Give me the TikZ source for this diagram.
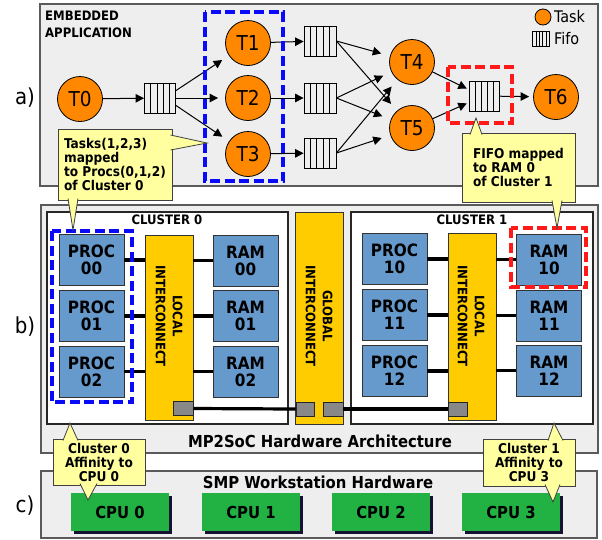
\documentclass[tikz,border=0pt]{standalone}
\usepackage{fontspec}
\IfFontExistsTF{DejaVu Sans Condensed}
  {\setmainfont{DejaVu Sans Condensed}[BoldFont={DejaVu Sans Condensed Bold}]}
  {\setmainfont{DejaVu Sans}[FakeStretch=0.9]}
\usetikzlibrary{arrows.meta,calc,shadows}
\definecolor{taskorange}{RGB}{255,136,0}
\definecolor{panelgray}{RGB}{238,238,238}
\definecolor{edgegray}{RGB}{90,90,90}
\definecolor{unitblue}{RGB}{102,153,204}
\definecolor{icyellow}{RGB}{255,204,0}
\definecolor{portgray}{RGB}{136,136,136}
\definecolor{cpugreen}{RGB}{34,177,67}
\definecolor{shadownavy}{RGB}{20,20,50}
\definecolor{noteyellow}{RGB}{255,255,160}
\definecolor{markblue}{RGB}{10,10,250}
\definecolor{markred}{RGB}{255,25,25}
\tikzset{panel/.style={draw=edgegray, fill=panelgray, line width=1.2pt}}
\tikzset{clusterbox/.style={draw=black!85, fill=white, line width=1.3pt}}
\tikzset{task/.style={circle, draw, fill=taskorange, minimum size=45pt, inner sep=0pt, line width=0.8pt, font=\fontsize{20.5}{20.5}\selectfont}}
\tikzset{fifo/.style={draw, minimum width=#1, minimum height=30pt, inner sep=0pt, line width=0.8pt,
    path picture={\foreach \k in {1,...,4}{\draw[line width=0.8pt] ($(path picture bounding box.south west)!\k/5!(path picture bounding box.south east)$) -- ($(path picture bounding box.north west)!\k/5!(path picture bounding box.north east)$);}}},
  fifo/.default=32pt}
\tikzset{unit/.style={draw=black!80, fill=unitblue, minimum width=65pt, minimum height=51pt, align=center, inner sep=0pt, line width=0.8pt, font=\bfseries\fontsize{17}{17}\selectfont}}
\tikzset{icbar/.style={draw=black!80, fill=icyellow, minimum width=48pt, inner sep=0pt, line width=0.9pt}}
\tikzset{ictext/.style={rotate=-90, align=center, inner sep=0pt, font=\bfseries\fontsize{13}{17}\selectfont}}
\tikzset{port/.style={draw=black!85, fill=portgray, minimum width=19pt, minimum height=14pt, inner sep=0pt, line width=0.8pt}}
\tikzset{cpu/.style={fill=cpugreen, minimum width=98pt, minimum height=38pt, inner sep=0pt, font=\bfseries\fontsize{16.5}{16.5}\selectfont,
    drop shadow={shadow xshift=2.5pt, shadow yshift=-2.5pt, fill=shadownavy, opacity=1}}}
\tikzset{callout/.style={draw=black!75, fill=noteyellow, line width=0.8pt, inner sep=2pt, font=\bfseries\fontsize{13.5}{14}\selectfont}}
\tikzset{title/.style={inner sep=0pt, font=\bfseries\fontsize{13}{17}\selectfont}}
\tikzset{arr/.style={draw, line width=1pt, -{Triangle[length=8.5pt,width=8.5pt]}}}
\tikzset{link/.style={draw, line width=3.2pt}}
\tikzset{bluemark/.style={draw=markblue, line width=3.2pt, dash pattern=on 10pt off 4.5pt}}
\tikzset{redmark/.style={draw=markred, line width=3.2pt, dash pattern=on 10pt off 4.5pt}}
\newcommand\calltail[3]{
    \fill[noteyellow] (#1) -- (#3) -- (#2) -- cycle;
    \draw[black!75, line width=0.8pt] (#1) -- (#3) -- (#2);
  }
\begin{document}
\begin{tikzpicture}[x=1pt, y=-1pt]
    \useasboundingbox (0,0) rectangle (602,539);
    % three layers
    \draw[panel] (40,4) rectangle (598,186);
    \draw[panel] (41,205) rectangle (598,453);
    \draw[panel] (41,471) rectangle (597,538);

    % a) embedded application
    \node[title, anchor=north west, align=left] (apptitle) at (45,11) {EMBEDDED\\APPLICATION};
    \node[task] (T0) at (80,99) {T0};
    \node[task] (T1) at (248,43) {T1};
    \node[task] (T2) at (248,98) {T2};
    \node[task] (T3) at (248,154) {T3};
    \node[task] (T4) at (412,62) {T4};
    \node[task] (T5) at (412,128) {T5};
    \node[task] (T6) at (556,97) {T6};
    \node[fifo=31pt] (F0) at (160,98) {};
    \node[fifo] (F1) at (320,41) {};
    \node[fifo] (F2) at (320,98) {};
    \node[fifo] (F3) at (320,153) {};
    \node[fifo=30pt] (F4) at (484,96) {};

    \draw[arr] (T0) -- (F0);
    \draw[arr, shorten >=8pt] (F0.25) -- (T1);
    \draw[arr, shorten >=7pt] (F0.east) -- (T2);
    \draw[arr, shorten >=8pt] (F0.-25) -- (T3);
    \draw[arr] (T1) -- (F1);
    \draw[arr] (T2) -- (F2);
    \draw[arr] (T3) -- (F3);
    \draw[arr, shorten >=9pt] (F1.east) -- (T4);
    \draw[arr, shorten >=9pt] (F1.east) -- (T5);
    \draw[arr, shorten >=9pt] (F2.east) -- (T4);
    \draw[arr, shorten >=9pt] (F2.east) -- (T5);
    \draw[arr, shorten >=9pt] (F3.east) -- (T4);
    \draw[arr, shorten >=9pt] (F3.east) -- (T5);
    \draw[arr, shorten >=2pt] (T4) -- (F4.157);
    \draw[arr, shorten >=2pt] (T5) -- (F4.203);
    \draw[arr, shorten >=4pt] (F4) -- (T6);

    % legend
    \node[task, minimum size=16pt] (legtask) at (543,17) {};
    \node[anchor=west, inner sep=1pt, font=\fontsize{16}{16}\selectfont] (legtasktxt) at (553,17) {Task};
    \node[fifo=17pt, minimum height=15pt, line width=0.6pt] (legfifo) at (541,39) {};
    \node[anchor=west, inner sep=1pt, font=\fontsize{16}{16}\selectfont] (legfifotxt) at (553,39) {Fifo};

    \draw[bluemark] (205,12) rectangle (283,181);
    \draw[redmark] (448,67) rectangle (512,123);

    % b) MP2SoC hardware
    \draw[clusterbox] (47,212) rectangle (288,424);
    \draw[clusterbox] (351,212) rectangle (593,424);
    \node[title] (cl0) at (167,220) {CLUSTER 0};
    \node[title] (cl1) at (472,220) {CLUSTER 1};

    \node[icbar, minimum height=185pt] (li0) at (169,327.5) {};
    \node[icbar, minimum height=212pt] (gi) at (319,318) {};
    \node[icbar, minimum height=187pt] (li1) at (472,326.5) {};
    \node[ictext] (li0txt) at (169,316) {LOCAL\\INTERCONNECT};
    \node[ictext] (gitxt) at (319,316) {GLOBAL\\INTERCONNECT};
    \node[ictext] (li1txt) at (471,316) {LOCAL\\INTERCONNECT};

    \node[unit] (p00) at (91.5,260) {PROC\\00};
    \node[unit] (p01) at (91.5,316) {PROC\\01};
    \node[unit] (p02) at (91.5,371.5) {PROC\\02};
    \node[unit] (r00) at (245.5,260.5) {RAM\\00};
    \node[unit] (r01) at (245.5,316) {RAM\\01};
    \node[unit] (r02) at (245.5,371.5) {RAM\\02};
    \node[unit] (p10) at (394.5,259) {PROC\\10};
    \node[unit] (p11) at (394.5,315) {PROC\\11};
    \node[unit] (p12) at (394.5,371) {PROC\\12};
    \node[unit] (r10) at (549,259.5) {RAM\\10};
    \node[unit] (r11) at (549,315.5) {RAM\\11};
    \node[unit] (r12) at (549,370.5) {RAM\\12};

    \draw[link] (p00.east) -- (p00 -| li0.west);
    \draw[link] (p01.east) -- (p01 -| li0.west);
    \draw[link] (p02.east) -- (p02 -| li0.west);
    \draw[link] (li0.east |- r00) -- (r00.west);
    \draw[link] (li0.east |- r01) -- (r01.west);
    \draw[link] (li0.east |- r02) -- (r02.west);
    \draw[link] (p10.east) -- (p10 -| li1.west);
    \draw[link] (p11.east) -- (p11 -| li1.west);
    \draw[link] (p12.east) -- (p12 -| li1.west);
    \draw[link] (li1.east |- r10) -- (r10.west);
    \draw[link] (li1.east |- r11) -- (r11.west);
    \draw[link] (li1.east |- r12) -- (r12.west);

    \node[port, minimum width=20pt] (pt0) at (183,408.5) {};
    \node[port, minimum width=18pt] (gp0) at (305,409) {};
    \node[port, minimum width=20pt] (gp1) at (333,409) {};
    \node[port] (pt1) at (457.5,409) {};
    \draw[link] (pt0.east) -- (gp0.west);
    \draw[link] (gp1.east) -- (pt1.west);

    \draw[bluemark] (52,231) rectangle (132,402);
    \draw[redmark] (511,228) rectangle (586,287);
    \node[inner sep=0pt, font=\bfseries\fontsize{16.5}{16.5}\selectfont] (hwtitle) at (320,441) {MP2SoC Hardware Architecture};

    % c) workstation
    \node[inner sep=0pt, font=\bfseries\fontsize{16.5}{16.5}\selectfont] (smptitle) at (318,482) {SMP Workstation Hardware};
    \node[cpu] (cpu0) at (120,512) {CPU 0};
    \node[cpu] (cpu1) at (251,512) {CPU 1};
    \node[cpu] (cpu2) at (381,512) {CPU 2};
    \node[cpu] (cpu3) at (511,512) {CPU 3};

    % callouts
    \node[callout, minimum width=114pt, minimum height=71pt, align=left] (callA) at (115,164.5)
        {Tasks(1,2,3)\\mapped\\to Procs(0,1,2)\\of Cluster 0};
    \coordinate (tipA1) at (207,143);
    \coordinate (tipA2) at (73,230);
    \calltail{170.5,135}{170.5,150}{tipA1}
    \calltail{68,198.5}{78,198.5}{tipA2}

    \node[callout, minimum width=113pt, minimum height=69pt, align=left] (callB) at (518.5,167.5)
        {FIFO mapped\\to RAM 0\\of Cluster 1};
    \coordinate (tipB1) at (476,118);
    \coordinate (tipB2) at (557,228);
    \calltail{470,134.5}{482,134.5}{tipB1}
    \calltail{552,200.5}{562,200.5}{tipB2}

    \node[callout, minimum width=92pt, minimum height=46pt, align=center, inner sep=1pt] (callC) at (99,462)
        {Cluster 0\\Affinity to\\CPU 0};
    \coordinate (tipC1) at (70,423);
    \coordinate (tipC2) at (88,500);
    \calltail{63,440.5}{78,440.5}{tipC1}
    \calltail{80,483.5}{97,483.5}{tipC2}

    \node[callout, minimum width=92pt, minimum height=47pt, align=center, inner sep=1pt] (callD) at (529,462.5)
        {Cluster 1\\Affinity to\\CPU 3};
    \coordinate (tipD1) at (554,423);
    \coordinate (tipD2) at (553,502);
    \calltail{548,440.5}{563,440.5}{tipD1}
    \calltail{545,484.5}{560,484.5}{tipD2}

    % layer labels
    \node[font=\fontsize{22}{22}\selectfont] (laba) at (25,98) {a)};
    \node[font=\fontsize{22}{22}\selectfont] (labb) at (25,327) {b)};
    \node[font=\fontsize{22}{22}\selectfont] (labc) at (25,506) {c)};
\end{tikzpicture}
\end{document}
